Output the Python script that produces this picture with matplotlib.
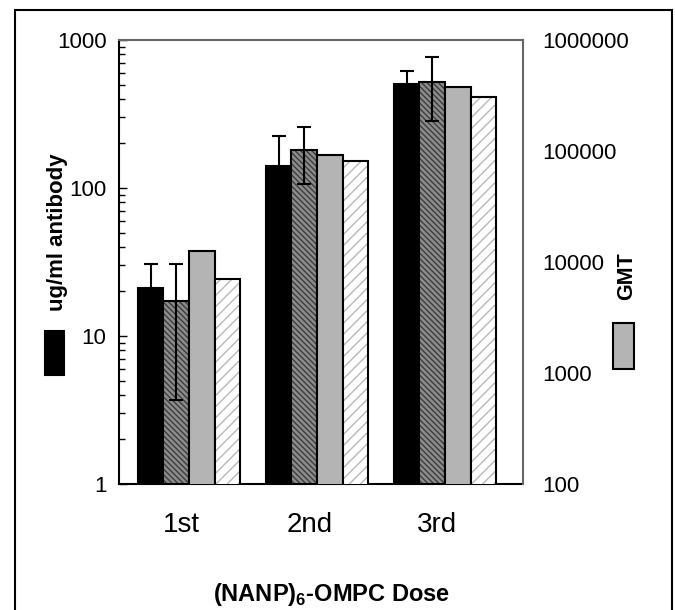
import matplotlib
matplotlib.use('Agg')
import matplotlib.pyplot as plt
from matplotlib.patches import Rectangle
import numpy as np

plt.rcParams['font.family'] = ['Liberation Sans', 'DejaVu Sans']
plt.rcParams['mathtext.fontset'] = 'custom'
plt.rcParams['mathtext.rm'] = 'Liberation Sans'
plt.rcParams['mathtext.bf'] = 'Liberation Sans:bold'
plt.rcParams['hatch.linewidth'] = 1.0

doses = ['1st', '2nd', '3rd']
# ug/ml antibody (left axis)
black_ug = [21.2, 141, 504]
black_err = [9.4, 83, 116]
hatch_ug = [17.2, 182, 523]
hatch_err = [13.5, 76, 241]
# GMT (right axis)
gray_gmt = [12600, 92000, 379000]
light_gmt = [7100, 81800, 305000]

W = 0.2
x = np.arange(len(doses))

fig = plt.figure(figsize=(6.75, 6.1), dpi=100)
ax = fig.add_axes([119/675, 126/610, 404/675, 444/610])
ax2 = ax.twinx()

ekw = dict(ecolor='black', elinewidth=1.5, capsize=5, capthick=1.5)

ax.bar(x - 1.5*W, black_ug, W, color='black', edgecolor='black', linewidth=1.5,
       yerr=black_err, error_kw=ekw, zorder=2)
# dark hatched bar: fill + hatch, then black outline
ax.bar(x - 0.5*W, hatch_ug, W, facecolor='#8c8c8c', edgecolor='#3c3c3c',
       hatch='\\\\\\\\\\\\', linewidth=0, zorder=2)
ax.bar(x - 0.5*W, hatch_ug, W, fill=False, edgecolor='black', linewidth=1.5,
       yerr=hatch_err, error_kw=ekw, zorder=3)

ax2.bar(x + 0.5*W, gray_gmt, W, color='#b4b4b4', edgecolor='black', linewidth=1.5, zorder=2)
ax2.bar(x + 1.5*W, light_gmt, W, facecolor='white', edgecolor='#b8b8b8',
        hatch='///', linewidth=0, zorder=2)
ax2.bar(x + 1.5*W, light_gmt, W, fill=False, edgecolor='black', linewidth=1.5, zorder=3)

ax.set_yscale('log')
ax.set_ylim(1, 1000)
ax2.set_yscale('log')
ax2.set_ylim(100, 1e6)
ax.set_xlim(-0.547, 2.609)

ax.set_yticks([1, 10, 100, 1000])
ax.set_yticklabels(['1', '10', '100', '1000'])
ax2.set_yticks([100, 1000, 10000, 100000, 1000000])
ax2.set_yticklabels(['100', '1000', '10000', '100000', '1000000'])
ax2.minorticks_off()

ax.tick_params(axis='y', which='major', direction='in', length=6, width=1,
               labelsize=16, pad=9)
ax.tick_params(axis='y', which='minor', direction='in', length=4, width=1)
ax2.tick_params(axis='y', which='both', length=0, labelsize=16, pad=14)

ax.set_xticks(x - 0.06)
ax.set_xticklabels(doses)
ax.tick_params(axis='x', length=0, labelsize=20, pad=20)

for s in ['left', 'bottom']:
    ax.spines[s].set_color('black')
    ax.spines[s].set_linewidth(1.5)
ax.spines['top'].set_color('#666666')
ax.spines['top'].set_linewidth(1.5)
ax.spines['right'].set_visible(False)
for s in ['left', 'bottom', 'top']:
    ax2.spines[s].set_visible(False)
ax2.spines['right'].set_color('#666666')
ax2.spines['right'].set_linewidth(1.5)

fig.text(58/675, 1 - 232/610, 'ug/ml antibody', rotation=90, fontsize=16,
         fontweight='bold', ha='center', va='center')
fig.text(627/675, 1 - 276/610, 'GMT', rotation=90, fontsize=15.5,
         fontweight='bold', ha='center', va='center')
fig.text(332/675, 1 - 595/610, r'(NANP)$_\mathbf{6}$-OMPC Dose', fontsize=17,
         fontweight='bold', ha='center', va='center')

# legend keys beside the axis titles
fig.patches.append(Rectangle((45/675, 1 - 375/610), 19/675, 44/610,
                             transform=fig.transFigure, facecolor='black',
                             edgecolor='black', linewidth=1.5))
fig.patches.append(Rectangle((613/675, 1 - 369/610), 21/675, 46/610,
                             transform=fig.transFigure, facecolor='#b4b4b4',
                             edgecolor='black', linewidth=1.5))

# frame round the figure
fig.patches.append(Rectangle((15/675, -0.01), 657/675, 1.01 - 10/610,
                             transform=fig.transFigure, fill=False,
                             edgecolor='black', linewidth=1.5))

fig.savefig('out.png', dpi=100)
